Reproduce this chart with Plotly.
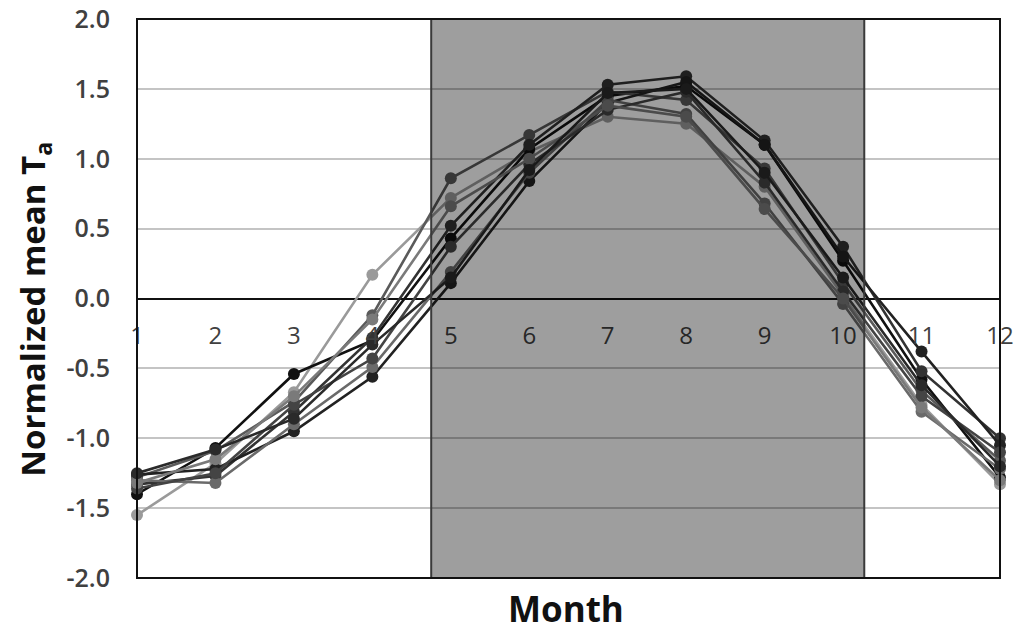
import plotly.graph_objects as go

months = [1, 2, 3, 4, 5, 6, 7, 8, 9, 10, 11, 12]
month_labels = ["1", "2", "3", "4", "5", "6", "7", "8", "9", "10", "11", "12"]
y_ticks = [-2.0, -1.5, -1.0, -0.5, 0.0, 0.5, 1.0, 1.5, 2.0]
y_tick_labels = ["-2.0", "-1.5", "-1.0", "-0.5", "0.0", "0.5", "1.0", "1.5", "2.0"]

s1 = [-1.55, -1.18, -0.67, 0.17, 0.72, 1.05, 1.30, 1.25, 0.80, 0.02, -0.76, -1.33]
s2 = [-1.40, -1.07, -0.54, -0.30, 0.43, 1.07, 1.45, 1.52, 1.10, 0.27, -0.58, -1.28]
s3 = [-1.28, -1.09, -0.74, -0.12, 0.86, 1.17, 1.48, 1.42, 0.93, 0.11, -0.66, -1.16]
s4 = [-1.33, -1.27, -0.81, -0.28, 0.52, 1.10, 1.53, 1.59, 1.13, 0.37, -0.52, -1.00]
s5 = [-1.26, -1.22, -0.95, -0.56, 0.11, 0.84, 1.40, 1.55, 1.10, 0.30, -0.38, -1.05]
s6 = [-1.30, -1.32, -0.90, -0.49, 0.19, 0.90, 1.42, 1.32, 0.68, -0.04, -0.81, -1.22]
s7 = [-1.36, -1.25, -0.76, -0.43, 0.37, 0.96, 1.35, 1.48, 0.83, 0.05, -0.70, -1.10]
s8 = [-1.32, -1.15, -0.70, -0.15, 0.66, 1.00, 1.38, 1.30, 0.64, 0.00, -0.78, -1.30]
s9 = [-1.25, -1.08, -0.86, -0.33, 0.15, 0.92, 1.47, 1.50, 0.90, 0.15, -0.62, -1.20]

series = [s1, s2, s3, s4, s5, s6, s7, s8, s9]
colors = ["#9a9a9a", "#111111", "#5a5a5a", "#333333", "#222222",
          "#6a6a6a", "#444444", "#7a7a7a", "#2a2a2a"]

shade_start, shade_end = 4.75, 10.27

fig = go.Figure()
for s, c in zip(series, colors):
    fig.add_trace(go.Scatter(
        x=months, y=s, mode="lines+markers",
        line=dict(color=c, width=2.6),
        marker=dict(color=c, size=12),
        cliponaxis=False, showlegend=False,
    ))

fig.add_shape(type="rect", xref="x", yref="paper",
              x0=shade_start, x1=shade_end, y0=0, y1=1,
              fillcolor="rgba(0,0,0,0.38)",
              line=dict(color="#3a3a3a", width=2), layer="above")
fig.add_shape(type="rect", xref="paper", yref="paper",
              x0=0, x1=1, y0=0, y1=1,
              line=dict(color="#111111", width=2), layer="above")

fig.update_layout(
    width=1024, height=631,
    margin=dict(l=137, r=24, t=19, b=53, autoexpand=False),
    paper_bgcolor="white", plot_bgcolor="white",
    font=dict(family="Open Sans", color="#404040"),
    xaxis=dict(
        range=[1, 12], tickvals=months, ticktext=month_labels,
        anchor="free", position=0.5, side="bottom", automargin=False,
        showgrid=False, zeroline=False, showline=False,
        ticks="", ticklabelstandoff=20,
        tickfont=dict(size=24, color="#404040"),
    ),
    yaxis=dict(
        range=[-2, 2], tickvals=y_ticks, ticktext=y_tick_labels,
        automargin=False,
        showgrid=True, gridcolor="#c4c4c4", gridwidth=2,
        zeroline=True, zerolinecolor="#111111", zerolinewidth=2,
        showline=False, ticks="", ticklabelstandoff=26,
        tickfont=dict(size=25, color="#404040", weight=600),
    ),
    annotations=[
        dict(text="Normalized mean T<sub>a</sub>", xref="paper", yref="paper",
             x=-0.118, y=0.48, textangle=-90, showarrow=False,
             xanchor="center", yanchor="middle",
             font=dict(size=33, color="#111111", weight="bold")),
        dict(text="Month", xref="paper", yref="paper",
             x=0.497, y=-0.055, showarrow=False,
             xanchor="center", yanchor="middle",
             font=dict(size=35, color="#111111", weight="bold")),
    ],
)

fig.write_html(
    "out.html",
    config={"displayModeBar": False},
    post_script="document.body.style.margin='0';document.body.style.padding='0';document.body.style.overflow='hidden';",
)
